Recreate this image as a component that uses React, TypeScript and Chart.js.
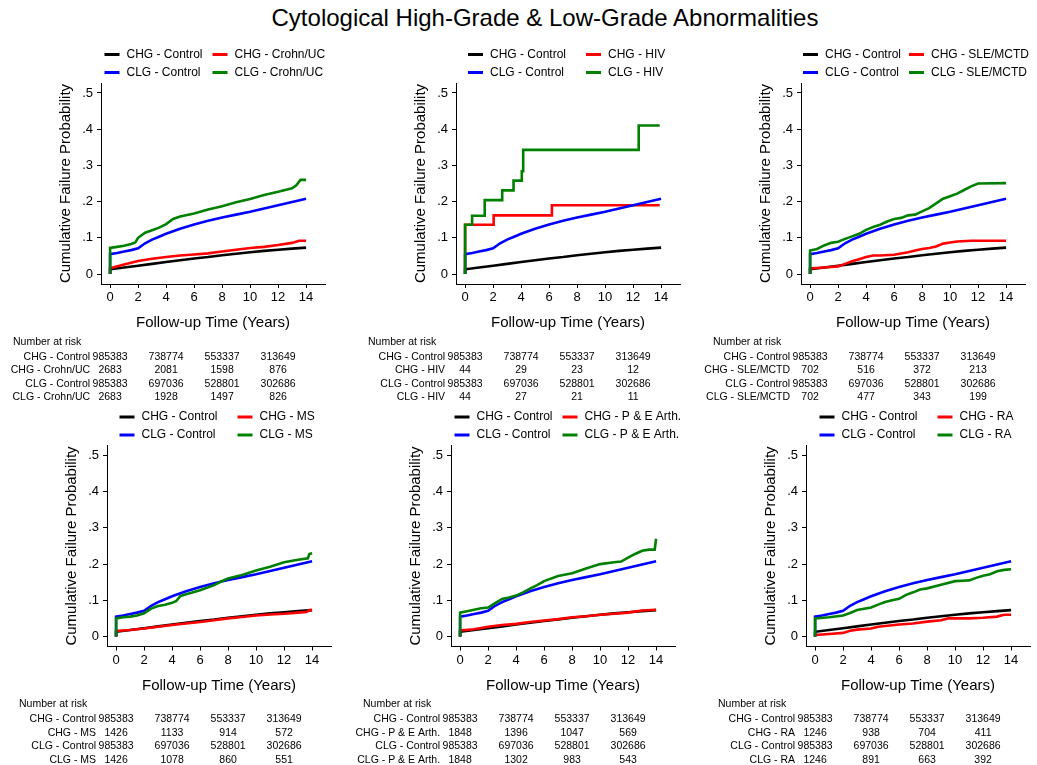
import React, { useEffect, useRef } from 'react';
import { Chart, registerables } from 'chart.js';

Chart.register(...registerables);

const FONT = "'Liberation Sans', Arial, Helvetica, sans-serif";

const TITLE = 'Cytological High-Grade & Low-Grade Abnormalities';
const X_TITLE = 'Follow-up Time (Years)';
const Y_TITLE = 'Cumulative Failure Probability';
const X_TICKS = [0, 2, 4, 6, 8, 10, 12, 14];
const Y_TICKS = [0, 0.1, 0.2, 0.3, 0.4, 0.5];
const Y_TICK_LABELS = ['0', '.1', '.2', '.3', '.4', '.5'];
const RISK_TIMES = [0, 4, 8, 12];
const GROUPS = ['Crohn/UC', 'HIV', 'SLE/MCTD', 'MS', 'P & E Arth.', 'RA'];

// Controls (shared by all panels)
const CHG_CONTROL_T = [0, 0, 1, 2, 3, 4, 5, 6, 7, 8, 9, 10, 11, 12, 13, 14];
const CHG_CONTROL_F = [0, 0.013, 0.018, 0.023, 0.028, 0.033, 0.038, 0.043, 0.047, 0.052, 0.056, 0.060, 0.064, 0.067, 0.070, 0.073];
const CLG_CONTROL_T = [0, 0, 0.5, 1, 1.5, 2, 2.5, 3, 3.5, 4, 5, 6, 7, 8, 9, 10, 11, 12, 13, 14];
const CLG_CONTROL_F = [0, 0.055, 0.058, 0.062, 0.066, 0.071, 0.085, 0.095, 0.103, 0.111, 0.125, 0.137, 0.147, 0.156, 0.164, 0.172, 0.181, 0.190, 0.199, 0.208];

// Crohn/UC
const CHG_CROHN_T = [0, 0, 1, 2, 3, 4, 5, 6, 7, 8, 9, 10, 11, 12, 13, 13.5, 14];
const CHG_CROHN_F = [0, 0.016, 0.026, 0.036, 0.042, 0.047, 0.051, 0.054, 0.057, 0.062, 0.067, 0.072, 0.075, 0.080, 0.086, 0.092, 0.092];
const CLG_CROHN_T = [0, 0, 0.5, 1, 1.5, 1.8, 2, 2.5, 3, 3.5, 4, 4.5, 5, 6, 7, 8, 9, 10, 11, 12, 13, 13.3, 13.6, 14];
const CLG_CROHN_F = [0, 0.072, 0.075, 0.078, 0.083, 0.087, 0.100, 0.114, 0.121, 0.128, 0.138, 0.152, 0.159, 0.167, 0.178, 0.187, 0.198, 0.207, 0.218, 0.227, 0.237, 0.245, 0.260, 0.260];

// HIV (step functions)
const CHG_HIV_T = [0, 0, 2.04, 6.2, 13.9];
const CHG_HIV_F = [0, 0.136, 0.162, 0.190, 0.190];
const CLG_HIV_T = [0, 0, 0.5, 1.4, 2.65, 3.46, 4.05, 4.15, 12.4, 13.9];
const CLG_HIV_F = [0, 0.136, 0.161, 0.204, 0.231, 0.258, 0.284, 0.343, 0.410, 0.410];

// SLE/MCTD
const CHG_SLE_T = [0, 0, 1, 2, 2.5, 3, 3.5, 4, 4.5, 5, 6, 7, 7.5, 8, 8.5, 9, 9.5, 10, 10.5, 11.5, 14];
const CHG_SLE_F = [0, 0.015, 0.018, 0.021, 0.028, 0.035, 0.041, 0.047, 0.051, 0.051, 0.053, 0.060, 0.065, 0.069, 0.072, 0.076, 0.084, 0.087, 0.090, 0.092, 0.092];
const CLG_SLE_T = [0, 0, 0.5, 1, 1.5, 2, 2.5, 3, 3.5, 4, 4.5, 5, 5.5, 6, 6.5, 7, 7.5, 8, 8.5, 9, 9.5, 10, 10.5, 11, 11.5, 12, 14];
const CLG_SLE_F = [0, 0.065, 0.069, 0.079, 0.086, 0.089, 0.097, 0.104, 0.111, 0.122, 0.130, 0.136, 0.145, 0.152, 0.155, 0.162, 0.164, 0.173, 0.182, 0.195, 0.208, 0.215, 0.222, 0.232, 0.242, 0.250, 0.251];

// MS
const CHG_MS_T = [0, 0, 1, 2, 3, 4, 5, 6, 7, 8, 9, 10, 11, 12, 13, 13.6, 13.8, 14];
const CHG_MS_F = [0, 0.015, 0.018, 0.022, 0.027, 0.032, 0.036, 0.040, 0.045, 0.050, 0.054, 0.058, 0.061, 0.063, 0.066, 0.068, 0.073, 0.073];
const CLG_MS_T = [0, 0, 0.5, 1, 1.5, 2, 2.5, 3, 3.5, 4, 4.3, 4.6, 5, 6, 7, 7.5, 8, 9, 10, 11, 12, 13, 13.7, 13.8, 14];
const CLG_MS_F = [0, 0.050, 0.053, 0.055, 0.058, 0.064, 0.077, 0.084, 0.088, 0.093, 0.098, 0.112, 0.117, 0.128, 0.142, 0.152, 0.160, 0.170, 0.182, 0.193, 0.205, 0.212, 0.216, 0.228, 0.230];

// P & E Arth.
const CHG_PE_T = [0, 0, 1, 2, 3, 4, 5, 6, 7, 8, 9, 10, 11, 12, 13, 14];
const CHG_PE_F = [0, 0.017, 0.020, 0.027, 0.032, 0.035, 0.040, 0.044, 0.048, 0.053, 0.056, 0.060, 0.063, 0.066, 0.072, 0.074];
const CLG_PE_T = [0, 0, 0.5, 1, 1.5, 2, 2.5, 3, 3.5, 4, 4.5, 5, 5.5, 6, 7, 8, 9, 10, 11, 11.5, 12, 12.5, 13, 13.5, 13.9, 14];
const CLG_PE_F = [0, 0.066, 0.070, 0.074, 0.078, 0.080, 0.092, 0.104, 0.108, 0.113, 0.122, 0.132, 0.142, 0.153, 0.167, 0.175, 0.188, 0.200, 0.205, 0.207, 0.218, 0.228, 0.237, 0.240, 0.240, 0.270];

// RA
const CHG_RA_T = [0, 0, 1, 2, 2.5, 3, 4, 4.5, 5, 6, 7, 8, 9, 9.5, 10, 11, 12, 13, 13.5, 14];
const CHG_RA_F = [0, 0.004, 0.007, 0.010, 0.016, 0.019, 0.022, 0.027, 0.029, 0.033, 0.036, 0.041, 0.045, 0.050, 0.050, 0.050, 0.052, 0.055, 0.060, 0.060];
const CLG_RA_T = [0, 0, 1, 2, 2.5, 3, 4, 4.5, 5, 5.5, 6, 6.5, 7, 7.5, 8, 9, 10, 10.5, 11, 11.5, 12, 12.5, 13, 13.5, 14];
const CLG_RA_F = [0, 0.050, 0.053, 0.058, 0.065, 0.073, 0.080, 0.088, 0.095, 0.100, 0.104, 0.115, 0.122, 0.130, 0.133, 0.143, 0.153, 0.154, 0.155, 0.162, 0.168, 0.172, 0.180, 0.184, 0.186];

// Number at risk
const RISK_CHG_CONTROL = [985383, 738774, 553337, 313649];
const RISK_CLG_CONTROL = [985383, 697036, 528801, 302686];
const RISK_CHG_CROHN = [2683, 2081, 1598, 876];
const RISK_CLG_CROHN = [2683, 1928, 1497, 826];
const RISK_CHG_HIV = [44, 29, 23, 12];
const RISK_CLG_HIV = [44, 27, 21, 11];
const RISK_CHG_SLE = [702, 516, 372, 213];
const RISK_CLG_SLE = [702, 477, 343, 199];
const RISK_CHG_MS = [1426, 1133, 914, 572];
const RISK_CLG_MS = [1426, 1078, 860, 551];
const RISK_CHG_PE = [1848, 1396, 1047, 569];
const RISK_CLG_PE = [1848, 1302, 983, 543];
const RISK_CHG_RA = [1246, 938, 704, 411];
const RISK_CLG_RA = [1246, 891, 663, 392];

const PANELS = [
  { chgT: CHG_CROHN_T, chgF: CHG_CROHN_F, clgT: CLG_CROHN_T, clgF: CLG_CROHN_F, rChg: RISK_CHG_CROHN, rClg: RISK_CLG_CROHN, stepped: false },
  { chgT: CHG_HIV_T, chgF: CHG_HIV_F, clgT: CLG_HIV_T, clgF: CLG_HIV_F, rChg: RISK_CHG_HIV, rClg: RISK_CLG_HIV, stepped: true },
  { chgT: CHG_SLE_T, chgF: CHG_SLE_F, clgT: CLG_SLE_T, clgF: CLG_SLE_F, rChg: RISK_CHG_SLE, rClg: RISK_CLG_SLE, stepped: false },
  { chgT: CHG_MS_T, chgF: CHG_MS_F, clgT: CLG_MS_T, clgF: CLG_MS_F, rChg: RISK_CHG_MS, rClg: RISK_CLG_MS, stepped: false },
  { chgT: CHG_PE_T, chgF: CHG_PE_F, clgT: CLG_PE_T, clgF: CLG_PE_F, rChg: RISK_CHG_PE, rClg: RISK_CLG_PE, stepped: false },
  { chgT: CHG_RA_T, chgF: CHG_RA_F, clgT: CLG_RA_T, clgF: CLG_RA_F, rChg: RISK_CHG_RA, rClg: RISK_CLG_RA, stepped: false },
];

// Layout (page pixels)
const AREA_LEFT = [101, 456, 801, 107, 451, 806];
const LEGEND_TEXT_OFF = [25.5, 34, 24, 34.5, 25.5, 35.5];
const LEGEND_COL_DIST = [108, 118, 106, 118, 108, 118];
const ROW_TOP = [40, 405];
const ROW_H = [365, 360];
const AREA_TOP = [43, 40.5];
const AREA_H = 201;
const AREA_W = 224;
const Y_BOX = 44;
const X_BOX = 48;
const LEFT_PAD = 56;

const COLORS = ['#000000', '#ff0000', '#0000ff', '#008000'];

function pts(t: number[], f: number[]) {
  return t.map((v, i) => ({ x: v, y: f[i] }));
}

function buildConfig(idx: number): any {
  const p = PANELS[idx];
  const g = GROUPS[idx];
  const row = idx < 3 ? 0 : 1;
  const left = AREA_LEFT[idx] - 100;
  const width = Math.min(336, 1037 - left);
  const height = ROW_H[row];
  const padRight = width - LEFT_PAD - Y_BOX - AREA_W;
  const padBottom = height - AREA_TOP[row] - AREA_H - X_BOX;

  const series = [
    { label: 'CHG - Control', data: pts(CHG_CONTROL_T, CHG_CONTROL_F), step: false, order: 4 },
    { label: 'CHG - ' + g, data: pts(p.chgT, p.chgF), step: p.stepped, order: 3 },
    { label: 'CLG - Control', data: pts(CLG_CONTROL_T, CLG_CONTROL_F), step: false, order: 2 },
    { label: 'CLG - ' + g, data: pts(p.clgT, p.clgF), step: p.stepped, order: 1 },
  ];
  const riskRows = [
    { label: 'CHG - Control', values: RISK_CHG_CONTROL },
    { label: 'CHG - ' + g, values: p.rChg },
    { label: 'CLG - Control', values: RISK_CLG_CONTROL },
    { label: 'CLG - ' + g, values: p.rClg },
  ];

  const overlay = {
    id: 'kmOverlay' + idx,
    afterDraw(chart: any) {
      const { ctx, chartArea } = chart;
      const x = chart.scales.x;
      const ds = chart.data.datasets;
      ctx.save();
      // legend
      ctx.font = '12px ' + FONT;
      ctx.textBaseline = 'middle';
      ctx.textAlign = 'left';
      const textX = [chartArea.left + LEGEND_TEXT_OFF[idx], chartArea.left + LEGEND_TEXT_OFF[idx] + LEGEND_COL_DIST[idx]];
      const rowY = [chartArea.top - 28.5, chartArea.top - 10.5];
      [[0, 1], [2, 3]].forEach((pair, r) => {
        pair.forEach((di, c) => {
          const d = ds[di];
          const tx = textX[c];
          ctx.strokeStyle = d.borderColor;
          ctx.lineWidth = 3;
          ctx.beginPath();
          ctx.moveTo(tx - 22, rowY[r]);
          ctx.lineTo(tx - 7, rowY[r]);
          ctx.stroke();
          ctx.fillStyle = '#000';
          ctx.fillText(d.label, tx, rowY[r]);
        });
      });
      // risk table
      ctx.font = '10.5px ' + FONT;
      ctx.fillStyle = '#000';
      const base = chartArea.bottom;
      ctx.textAlign = 'left';
      ctx.fillText('Number at risk', chartArea.left - 88, base + 58);
      const x0 = x.getPixelForValue(0);
      riskRows.forEach((rr, i) => {
        const y = base + 73 + i * 13.5;
        ctx.textAlign = 'right';
        ctx.fillText(rr.label, x0 - 20, y);
        ctx.textAlign = 'center';
        RISK_TIMES.forEach((t, j) => {
          ctx.fillText(String(rr.values[j]), x.getPixelForValue(t), y);
        });
      });
      ctx.restore();
    },
  };

  return {
    type: 'line',
    data: {
      datasets: series.map((s, i) => ({
        label: s.label,
        data: s.data,
        borderColor: COLORS[i],
        backgroundColor: COLORS[i],
        borderWidth: 2.6,
        pointRadius: 0,
        pointHoverRadius: 0,
        fill: false,
        tension: 0,
        stepped: s.step ? 'before' : false,
        order: s.order,
      })),
    },
    options: {
      animation: false,
      responsive: false,
      maintainAspectRatio: false,
      events: [],
      layout: { padding: { left: LEFT_PAD, top: AREA_TOP[row], right: padRight, bottom: padBottom } },
      plugins: { legend: { display: false }, tooltip: { enabled: false }, title: { display: false } },
      scales: {
        x: {
          type: 'linear',
          min: -0.65,
          max: 15.35,
          afterBuildTicks: (a: any) => { a.ticks = X_TICKS.map((v) => ({ value: v })); },
          afterFit: (s: any) => { s.height = X_BOX; },
          grid: { display: true, drawOnChartArea: false, drawTicks: true, tickLength: 4, color: '#000', lineWidth: 1 },
          border: { display: true, color: '#000', width: 1 },
          ticks: { color: '#000', font: { family: FONT, size: 13 }, padding: 2, maxRotation: 0, autoSkip: false, callback: (v: any) => String(v) },
          title: { display: true, text: X_TITLE, color: '#000', font: { family: FONT, size: 15 }, padding: { top: 0, bottom: 0 } },
        },
        y: {
          type: 'linear',
          min: -0.0276,
          max: 0.5276,
          afterBuildTicks: (a: any) => { a.ticks = Y_TICKS.map((v) => ({ value: v })); },
          afterFit: (s: any) => { s.width = Y_BOX; },
          grid: { display: true, drawOnChartArea: false, drawTicks: true, tickLength: 4, color: '#000', lineWidth: 1 },
          border: { display: true, color: '#000', width: 1 },
          ticks: { color: '#000', font: { family: FONT, size: 13 }, padding: 4, autoSkip: false, callback: (_v: any, i: number) => Y_TICK_LABELS[i] },
          title: { display: true, text: Y_TITLE, color: '#000', font: { family: FONT, size: 15 }, padding: { top: 0, bottom: 0 } },
        },
      },
    },
    plugins: [overlay],
  };
}

function Panel({ idx }: { idx: number }) {
  const ref = useRef<HTMLCanvasElement | null>(null);
  const row = idx < 3 ? 0 : 1;
  const left = AREA_LEFT[idx] - 100;
  const width = Math.min(336, 1037 - left);
  const height = ROW_H[row];
  useEffect(() => {
    if (!ref.current) return;
    const chart = new Chart(ref.current, buildConfig(idx));
    return () => chart.destroy();
  }, [idx]);
  return (
    <canvas
      ref={ref}
      width={width}
      height={height}
      style={{ position: 'absolute', left, top: ROW_TOP[row], width, height }}
    />
  );
}

export default function App() {
  return (
    <div style={{ position: 'absolute', left: 0, top: 0, width: 1037, height: 765, background: '#fff', overflow: 'hidden' }}>
      <div
        style={{
          position: 'absolute',
          left: 145,
          top: 4,
          width: 800,
          textAlign: 'center',
          fontFamily: FONT,
          fontSize: 24,
          lineHeight: '28px',
          color: '#000',
          whiteSpace: 'nowrap',
        }}
      >
        {TITLE}
      </div>
      {PANELS.map((_, i) => (
        <Panel key={i} idx={i} />
      ))}
    </div>
  );
}
